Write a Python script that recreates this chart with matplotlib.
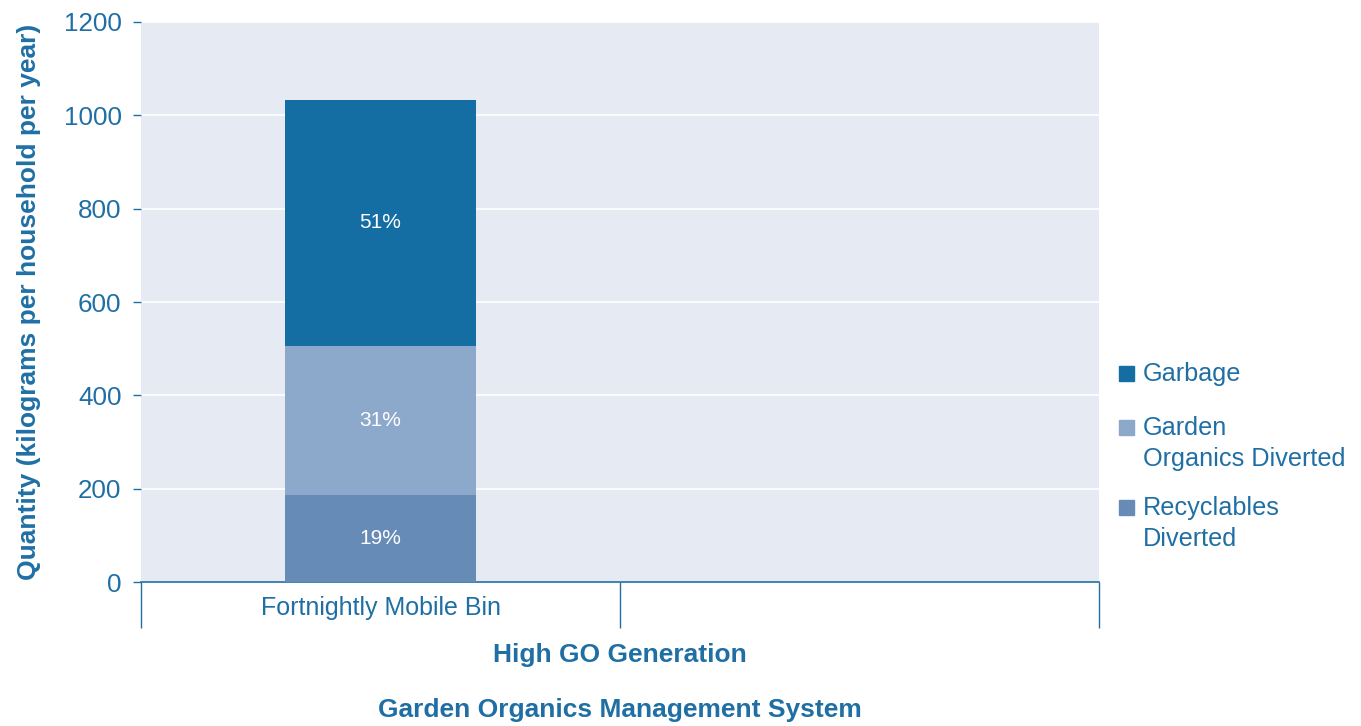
import numpy as np
import matplotlib.pyplot as plt
from matplotlib.patches import Rectangle

plt.rcParams['font.family'] = ['Liberation Sans', 'DejaVu Sans']

# data
categories = ['Fortnightly Mobile Bin', '']
series = ['Recyclables Diverted', 'Garden Organics Diverted', 'Garbage']
recyclables = [186, 0]
garden = [320, 0]
garbage = [527, 0]
pct_labels = [['19%', ''], ['31%', ''], ['51%', '']]
legend_series = ['Garbage', 'Garden Organics Diverted', 'Recyclables Diverted']
legend_lines = [['Garbage'], ['Garden', 'Organics Diverted'], ['Recyclables', 'Diverted']]

colors = {'Recyclables Diverted': '#678bb7',
          'Garden Organics Diverted': '#8ca8cb',
          'Garbage': '#156ea3'}
txt = '#1f6fa5'
bg = '#e6eaf2'

W, H = 1361, 726
fig = plt.figure(figsize=(W / 100, H / 100), dpi=100)
ax = fig.add_axes([0.1036, 0.1983, 0.7039, 0.7714])
ax.set_facecolor(bg)

x = np.arange(len(categories))
values = [recyclables, garden, garbage]
bottom = np.zeros(len(categories))
for name, vals, labs in zip(series, values, pct_labels):
    bars = ax.bar(x, vals, width=0.4, bottom=bottom, color=colors[name], zorder=3)
    for b, v, lab in zip(bars, vals, labs):
        if v > 0:
            ax.text(b.get_x() + b.get_width() / 2, b.get_y() + v / 2, lab,
                    ha='center', va='center', color='white', fontsize=15, zorder=4)
    bottom += np.array(vals)

ax.set_xlim(-0.5, 1.5)
ax.set_ylim(0, 1200)
ax.set_yticks(np.arange(0, 1201, 200))
ax.grid(axis='y', color='white', linewidth=1.2, zorder=1)

for s in ['top', 'right', 'left']:
    ax.spines[s].set_visible(False)
ax.spines['bottom'].set_color(txt)
ax.spines['bottom'].set_linewidth(1.2)

ax.tick_params(axis='y', colors=txt, labelsize=18.7, length=6, width=1, pad=8)
# category separators as long major ticks, labels on minor ticks
ax.set_xticks([-0.5, 0.5, 1.5])
ax.set_xticklabels([])
ax.tick_params(axis='x', which='major', length=33, width=1, color=txt)
ax.set_xticks(x, minor=True)
ax.set_xticklabels(categories, minor=True)
ax.tick_params(axis='x', which='minor', length=0, labelsize=18, labelcolor=txt, pad=10)

ax.set_ylabel('Quantity (kilograms per household per year)', fontsize=19,
              fontweight='bold', color=txt, labelpad=16)

fig.text(0.4556, 0.098, 'High GO Generation', ha='center', va='center',
         fontsize=19, fontweight='bold', color=txt)
fig.text(0.4556, 0.022, 'Garden Organics Management System', ha='center', va='center',
         fontsize=19, fontweight='bold', color=txt)

# legend drawn by hand so the swatch sits on the first line of each label
first_baseline = [381, 435, 515]  # px from top
line_step = 31
for name, lines, yb in zip(legend_series, legend_lines, first_baseline):
    fig.patches.append(Rectangle((1119 / W, 1 - yb / H), 15 / W, 15 / H,
                                 transform=fig.transFigure, color=colors[name]))
    for i, line in enumerate(lines):
        fig.text(1143 / W, 1 - (yb + i * line_step) / H, line, ha='left',
                 va='baseline', fontsize=18.2, color=txt)

fig.savefig('out.png', dpi=100)
